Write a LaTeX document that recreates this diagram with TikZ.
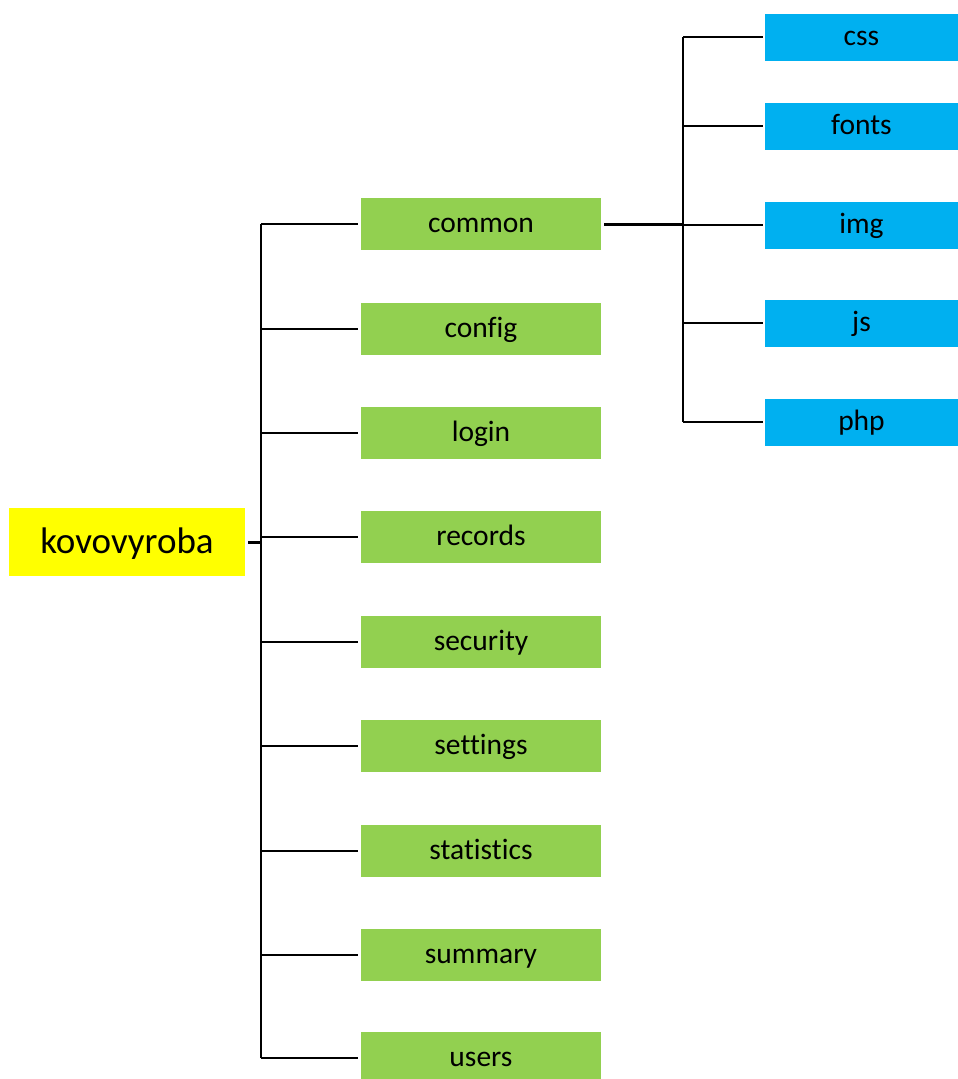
\documentclass[tikz,border=0pt]{standalone}
\usepackage{fontspec}
\setmainfont{Carlito}[Ligatures=NoCommon]
\definecolor{rootyellow}{HTML}{FFFF00}
\definecolor{dirgreen}{HTML}{92D050}
\definecolor{subblue}{HTML}{00B0F0}
\begin{document}
\begin{tikzpicture}[x=1pt,y=-1pt,
  box/.style={rectangle, inner sep=0pt},
  rootbox/.style={box, fill=rootyellow, minimum width=236pt, minimum height=68pt,
    text height=26pt, text depth=4pt, font=\fontsize{37}{42}\selectfont},
  dirbox/.style={box, fill=dirgreen, minimum width=240pt, minimum height=52pt,
    text height=20pt, text depth=3pt, font=\fontsize{29.5}{34}\selectfont},
  subbox/.style={box, fill=subblue, minimum width=193pt, minimum height=47pt,
    text height=19pt, text depth=3pt, font=\fontsize{29.5}{34}\selectfont},
  link/.style={draw=black, line width=2pt},
  stub/.style={draw=black, line width=3pt}]
\useasboundingbox (0,0) rectangle (958,1079);

% root folder
\node[rootbox] (root) at (127,542) {kovovyroba};

% first-level folders
\node[dirbox] (common)     at (481,224)  {common};
\node[dirbox] (config)     at (481,329)  {config};
\node[dirbox] (login)      at (481,433)  {login};
\node[dirbox] (records)    at (481,537)  {records};
\node[dirbox] (security)   at (481,642)  {security};
\node[dirbox] (settings)   at (481,746)  {settings};
\node[dirbox] (statistics) at (481,851)  {statistics};
\node[dirbox] (summary)    at (481,955)  {summary};
\node[dirbox] (users)      at (481,1058) {users};

% subfolders of common
\node[subbox] (css)   at (861.5,37)  {css};
\node[subbox] (fonts) at (861.5,126) {fonts};
\node[subbox] (img)   at (861.5,225) {img};
\node[subbox] (js)    at (861.5,323) {js};
\node[subbox] (php)   at (861.5,422) {php};

% trunk for the first level
\coordinate (trunk) at (261,542);
\draw[stub] ([xshift=3pt]root.east) -- (trunk);
\draw[link] (trunk |- common.west) -- (trunk |- users.west);
\foreach \d in {common,config,login,records,security,settings,statistics,summary,users}
  \draw[link] (trunk |- \d.west) -- ([xshift=-3pt]\d.west);

% trunk for the subfolders of common
\coordinate (subtrunk) at (683,224);
\draw[stub] ([xshift=3pt]common.east) -- (subtrunk);
\draw[link] (subtrunk |- css.west) -- (subtrunk |- php.west);
\foreach \s in {css,fonts,img,js,php}
  \draw[link] (subtrunk |- \s.west) -- ([xshift=-2pt]\s.west);
\end{tikzpicture}
\end{document}
